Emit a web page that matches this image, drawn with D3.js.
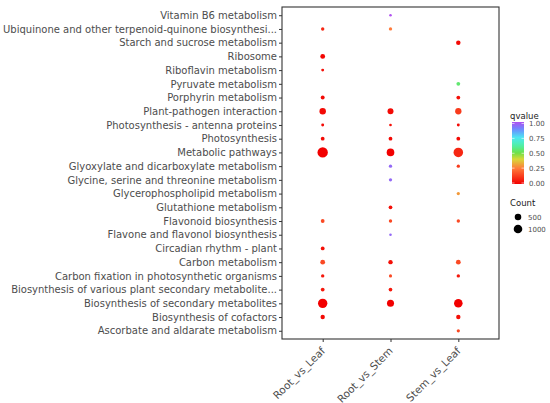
<!DOCTYPE html>
<html>
<head>
<meta charset="utf-8">
<script src="https://cdn.jsdelivr.net/npm/d3@7"></script>
<style>
  body { margin: 0; background: #fff; }
  text { font-family: "DejaVu Sans", sans-serif; }
</style>
</head>
<body>
<div id="chart"></div>
<script>
// pathways, top to bottom
var pathways = [
  'Vitamin B6 metabolism',
  'Ubiquinone and other terpenoid-quinone biosynthesi...',
  'Starch and sucrose metabolism',
  'Ribosome',
  'Riboflavin metabolism',
  'Pyruvate metabolism',
  'Porphyrin metabolism',
  'Plant-pathogen interaction',
  'Photosynthesis - antenna proteins',
  'Photosynthesis',
  'Metabolic pathways',
  'Glyoxylate and dicarboxylate metabolism',
  'Glycine, serine and threonine metabolism',
  'Glycerophospholipid metabolism',
  'Glutathione metabolism',
  'Flavonoid biosynthesis',
  'Flavone and flavonol biosynthesis',
  'Circadian rhythm - plant',
  'Carbon metabolism',
  'Carbon fixation in photosynthetic organisms',
  'Biosynthesis of various plant secondary metabolite...',
  'Biosynthesis of secondary metabolites',
  'Biosynthesis of cofactors',
  'Ascorbate and aldarate metabolism'
];
var groups = ['Root_vs_Leaf', 'Root_vs_Stem', 'Stem_vs_Leaf'];

// gene counts per group (null = not enriched), same order as pathways
var countRootLeaf = [null, 60, null, 200, 30, null, 100, 480, 30, 90, 1600, null, null, null, null, 90, null, 90, 200, 60, 90, 1250, 150, null];
var countRootStem = [15, 55, null, null, null, null, null, 380, 20, 90, 750, 55, 50, null, 80, 60, 15, null, 150, 40, 80, 600, null, null];
var countStemLeaf = [null, null, 160, null, null, 90, 90, 450, 30, 90, 1300, 55, null, 50, null, 60, null, null, 200, 60, null, 1000, 150, 50];

// qvalues, same order
var qRootLeaf = [null, 0.08, null, 0.01, 0.03, null, 0.02, 0.02, 0.02, 0.02, 0.0, null, null, null, null, 0.15, null, 0.03, 0.15, 0.05, 0.05, 0.0, 0.02, null];
var qRootStem = [1.0, 0.25, null, null, null, null, null, 0.02, 0.03, 0.02, 0.0, 0.95, 0.95, null, 0.03, 0.15, 0.95, null, 0.03, 0.15, 0.05, 0.0, null, null];
var qStemLeaf = [null, null, 0.02, null, null, 0.55, 0.03, 0.12, 0.02, 0.02, 0.08, 0.12, null, 0.3, null, 0.15, null, null, 0.15, 0.05, null, 0.0, 0.03, 0.15];

var qTicks = [0, 0.25, 0.5, 0.75, 1.0];
var countTicks = [500, 1000];

var counts = [countRootLeaf, countRootStem, countStemLeaf];
var qvals = [qRootLeaf, qRootStem, qStemLeaf];

var w = 550, h = 403;
var pl = 282, pr = 499, pt = 7, pb = 339;

var svg = d3.select('#chart').append('svg')
  .attr('width', w)
  .attr('height', h);

var x = d3.scalePoint().domain(groups).range([pl, pr]).padding(0.6);
var y = d3.scalePoint().domain(pathways).range([pt, pb]).padding(0.6);
var r = d3.scaleSqrt().domain([0, 2000]).range([0.87, 5.7]);
var color = d3.scaleLinear()
  .domain([0, 0.25, 0.4, 0.5, 0.62, 0.75, 0.88, 1.0])
  .range(['#f20000', '#ff7a3a', '#d8d838', '#6fe048', '#4ef0a8', '#4ee6f2', '#6a8cff', '#b050f0']);

// points
var pts = [];
groups.forEach(function(g, gi) {
  pathways.forEach(function(p, pi) {
    if (counts[gi][pi] != null) {
      pts.push({ g: g, p: p, c: counts[gi][pi], q: qvals[gi][pi] });
    }
  });
});

svg.append('g').selectAll('circle')
  .data(pts)
  .enter().append('circle')
  .attr('cx', function(d) { return x(d.g); })
  .attr('cy', function(d) { return y(d.p); })
  .attr('r', function(d) { return r(d.c); })
  .attr('fill', function(d) { return color(d.q); });

// frame
svg.append('rect')
  .attr('x', pl).attr('y', pt)
  .attr('width', pr - pl).attr('height', pb - pt)
  .attr('fill', 'none')
  .attr('stroke', '#333')
  .attr('stroke-width', 1.1);

// axes
var yAxis = svg.append('g')
  .attr('transform', 'translate(' + pl + ',0)')
  .call(d3.axisLeft(y).tickSize(3).tickPadding(2));
var xAxis = svg.append('g')
  .attr('transform', 'translate(0,' + pb + ')')
  .call(d3.axisBottom(x).tickSize(3).tickPadding(2));
[yAxis, xAxis].forEach(function(a) {
  a.select('.domain').remove();
  a.selectAll('line').attr('stroke', '#333');
  a.selectAll('text').attr('fill', '#4d4d4d').style('font-family', '"DejaVu Sans", sans-serif');
});
yAxis.selectAll('text').style('font-size', '10px');
xAxis.selectAll('text')
  .style('font-size', '10.5px')
  .attr('text-anchor', 'end')
  .attr('dy', '0.35em')
  .attr('y', 0)
  .attr('x', 0)
  .attr('transform', 'translate(0,10) rotate(-45)');

// qvalue legend
var lg = svg.append('g');
lg.append('text')
  .attr('x', 510).attr('y', 119)
  .attr('font-size', 8.5).attr('fill', '#1a1a1a')
  .text('qvalue');

var barTop = 122, barBottom = 184, barX = 512, barW = 12;
var grad = svg.append('defs').append('linearGradient')
  .attr('id', 'qgrad')
  .attr('x1', 0).attr('y1', 1).attr('x2', 0).attr('y2', 0);
d3.range(0, 1.0001, 0.05).forEach(function(t) {
  grad.append('stop').attr('offset', t).attr('stop-color', color(t));
});
lg.append('rect')
  .attr('x', barX).attr('y', barTop)
  .attr('width', barW).attr('height', barBottom - barTop)
  .attr('fill', 'url(#qgrad)');

var qy = d3.scaleLinear().domain([0, 1]).range([barBottom - 1, barTop + 1.5]);
qTicks.forEach(function(t) {
  lg.append('line')
    .attr('x1', barX).attr('x2', barX + 2.5)
    .attr('y1', qy(t)).attr('y2', qy(t))
    .attr('stroke', '#fff').attr('stroke-width', 0.6);
  lg.append('line')
    .attr('x1', barX + barW - 2.5).attr('x2', barX + barW)
    .attr('y1', qy(t)).attr('y2', qy(t))
    .attr('stroke', '#fff').attr('stroke-width', 0.6);
  lg.append('text')
    .attr('x', 529).attr('y', qy(t) + 2.5)
    .attr('font-size', 7).attr('fill', '#4d4d4d')
    .text(d3.format('.2f')(t));
});

// count legend
lg.append('text')
  .attr('x', 510).attr('y', 206)
  .attr('font-size', 8.5).attr('fill', '#1a1a1a')
  .text('Count');
var cy = [217, 229];
countTicks.forEach(function(c, i) {
  lg.append('circle')
    .attr('cx', 518).attr('cy', cy[i])
    .attr('r', r(c)).attr('fill', '#000');
  lg.append('text')
    .attr('x', 528).attr('y', cy[i] + 2.5)
    .attr('font-size', 7).attr('fill', '#4d4d4d')
    .text(c);
});
</script>
</body>
</html>
